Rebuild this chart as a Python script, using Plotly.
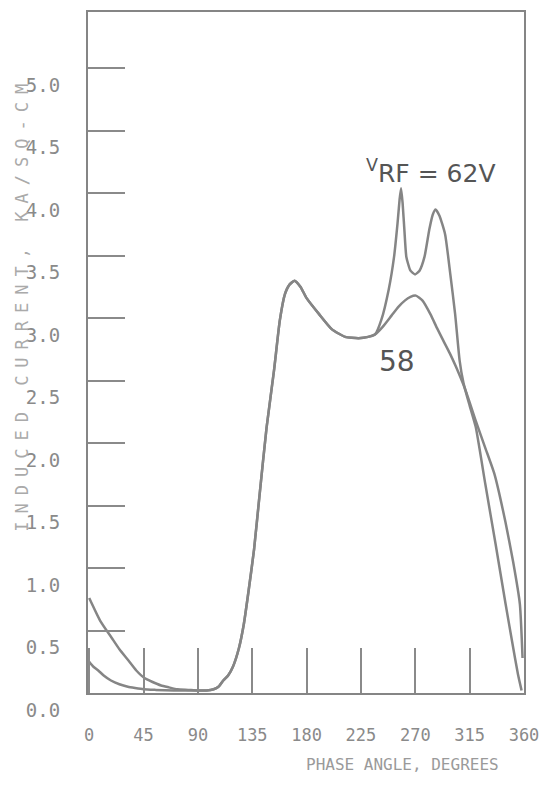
import plotly.graph_objects as go

# ---- data ----
x_ticks = [0, 45, 90, 135, 180, 225, 270, 315, 360]
y_ticks = [0.0, 0.5, 1.0, 1.5, 2.0, 2.5, 3.0, 3.5, 4.0, 4.5, 5.0]
y_tick_text = ["%.1f" % v for v in y_ticks]

phase_62 = [0, 9, 18.7, 25, 32.5, 39, 45.7, 52, 59.5, 66, 73, 82, 90, 97, 103,
            107, 111, 115, 119, 124, 128, 132, 136.5, 141, 146.8, 153, 157.8, 162, 166,
            170, 175, 180, 190.5, 201, 212, 223, 231, 236.7, 242, 248, 252.4,
            255.3, 257, 258.2, 259.5, 261, 262.6, 266, 269.8, 273.5, 277.6, 281.6, 284.5,
            286.8, 290, 294.7, 299, 303, 306.7, 309.9, 315, 320, 328, 336.5, 344.8,
            350, 355, 358]
current_62 = [0.76, 0.58, 0.44, 0.35, 0.26, 0.18, 0.12, 0.09, 0.06, 0.045, 0.03,
              0.025, 0.02, 0.02, 0.03, 0.05, 0.10, 0.14, 0.21, 0.36, 0.55, 0.82, 1.15, 1.58,
              2.12, 2.58, 2.98, 3.19, 3.27, 3.30, 3.25, 3.16, 3.03, 2.91, 2.85,
              2.84, 2.85, 2.87, 2.99, 3.23, 3.49, 3.76, 3.95, 4.04, 3.92, 3.70, 3.49, 3.38,
              3.35, 3.38, 3.49, 3.71, 3.83, 3.87, 3.82, 3.67, 3.35, 3.03, 2.66,
              2.48, 2.30, 2.13, 1.67, 1.19, 0.71, 0.42, 0.15, 0.02]

phase_58 = [0, 3.5, 7.5, 12, 18, 25, 32, 38, 45, 55, 70, 90, 97, 103,
            107, 111, 115, 119, 124, 128, 132, 136.5, 141, 146.8, 153, 157.8, 162, 166,
            170, 175, 180, 190.5, 201, 212, 223, 231, 236.7, 243, 250.3, 256,
            261.3, 266, 270.5, 276, 282.6, 288, 293.2, 298.5, 303.7, 311.7, 320,
            328, 335.6, 344.6, 351, 356.6, 358.8]
current_58 = [0.25, 0.21, 0.18, 0.14, 0.10, 0.07, 0.05, 0.04, 0.03, 0.025, 0.02,
              0.02, 0.02, 0.03, 0.05, 0.10, 0.14, 0.21, 0.36, 0.55, 0.82, 1.15, 1.58, 2.12,
              2.58, 2.98, 3.19, 3.27, 3.30, 3.25, 3.16, 3.03, 2.91, 2.85, 2.84,
              2.85, 2.87, 2.93, 3.02, 3.09, 3.14, 3.17, 3.18, 3.14, 3.03, 2.92,
              2.82, 2.72, 2.61, 2.42, 2.18, 1.96, 1.75, 1.37, 1.05, 0.71, 0.28]

LINE = "#858585"
TICK = "#8a8a8a"
MONO = "DejaVu Sans Mono"

fig = go.Figure()
for xs, ys, name in [(phase_62, current_62, "62 V"), (phase_58, current_58, "58 V")]:
    fig.add_trace(go.Scatter(x=xs, y=ys, mode="lines", name=name,
                             line=dict(color=LINE, width=2.5, shape="spline", smoothing=0.5),
                             showlegend=False))

fig.update_xaxes(range=[-1, 360], tickvals=x_ticks, ticktext=[str(v) for v in x_ticks],
                 ticks="inside", ticklen=45, tickwidth=1.5, tickcolor=TICK,
                 showline=True, mirror=True, linecolor=LINE, linewidth=2,
                 showgrid=False, zeroline=False, ticklabelstandoff=26,
                 tickfont=dict(family=MONO, size=17, color=TICK))
fig.update_yaxes(range=[0, 5.45], tickvals=y_ticks, ticktext=y_tick_text,
                 ticks="inside", ticklen=37, tickwidth=1.5, tickcolor=TICK,
                 showline=True, mirror=True, linecolor=LINE, linewidth=2,
                 showgrid=False, zeroline=False, ticklabelshift=17,
                 ticklabelstandoff=22,
                 tickfont=dict(family=MONO, size=19, color=TICK))

fig.add_annotation(xref="paper", yref="paper", x=-0.150, y=0.571,
                   text='<span style="letter-spacing:8px">INDUCED CURRENT, KA/SQ-CM</span>',
                   textangle=-90, showarrow=False, xanchor="center", yanchor="middle",
                   font=dict(family=MONO, size=17, color="#aaaaaa"))
fig.add_annotation(xref="paper", yref="paper", x=0.722, y=-0.105,
                   text="PHASE ANGLE, DEGREES", showarrow=False,
                   xanchor="center", yanchor="middle",
                   font=dict(family=MONO, size=16, color="#9a9a9a"))
fig.add_annotation(x=283, y=4.17, text="<sup>V</sup>RF = 62V", showarrow=False,
                   xanchor="center", yanchor="middle",
                   font=dict(family="DejaVu Sans", size=25, color="#555555"))
fig.add_annotation(x=255, y=2.65, text="58", showarrow=False,
                   xanchor="center", yanchor="middle",
                   font=dict(family="DejaVu Sans", size=28, color="#555555"))

fig.update_layout(width=549, height=785, margin=dict(l=88, r=22, t=10, b=92),
                  paper_bgcolor="white", plot_bgcolor="white")
fig.write_html("out.html")
